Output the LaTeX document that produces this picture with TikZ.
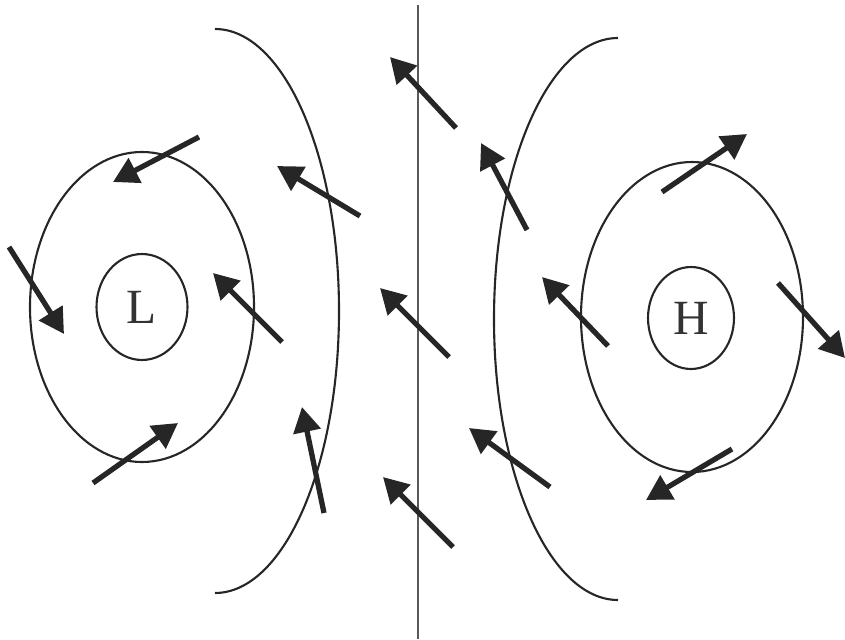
\documentclass[tikz,border=0pt]{standalone}
\usepackage{fontspec}
\setmainfont{Liberation Serif}
\usepackage{tikz}
\usetikzlibrary{arrows.meta,shapes.geometric}

\begin{document}
\begin{tikzpicture}[x=0.02cm, y=-0.02cm,
    isobar/.style={draw=black!85, line width=1.2pt},
    front/.style={draw=black!65, line width=1.5pt},
    centre/.style={ellipse, draw=black!85, line width=1.2pt, inner sep=0pt,
                   font=\fontsize{28}{30}\selectfont, text=black!80},
    wind/.style={-{Triangle[length=5mm, width=5.4mm]}, draw=black!85,
                 line width=3pt}]
  \useasboundingbox (0,0) rectangle (845,639);
  \node[centre, minimum width=1.82cm, minimum height=2.12cm] (low)  at (142,307) {L};
  \node[centre, minimum width=1.72cm, minimum height=2.04cm] (high) at (691,318) {H};
  \draw[isobar] (low.center)  ellipse [x radius=112, y radius=155];
  \draw[isobar] (692,317) ellipse [x radius=111, y radius=155];
  \draw[isobar] (215,29) arc [start angle=-90, end angle=90,   x radius=124, y radius=282];
  \draw[isobar] (618,38) arc [start angle=-90, end angle=-270, x radius=124, y radius=281];
  \draw[front] (418,5) -- (418,639);
  \draw[wind] (199,137) -- (113,182);
  \draw[wind] (9,247)   -- (64,334);
  \draw[wind] (93,483)  -- (178,423);
  \draw[wind] (282,342) -- (213,273);
  \draw[wind] (360,216) -- (277,166);
  \draw[wind] (324,513) -- (302,407);
  \draw[wind] (456,128) -- (390,57);
  \draw[wind] (449,357) -- (380,288);
  \draw[wind] (453,547) -- (383,477);
  \draw[wind] (527,230) -- (481,143);
  \draw[wind] (550,487) -- (469,428);
  \draw[wind] (608,346) -- (542,277);
  \draw[wind] (662,192) -- (747,134);
  \draw[wind] (778,283) -- (845,358);
  \draw[wind] (732,449) -- (646,500);
\end{tikzpicture}
\end{document}
